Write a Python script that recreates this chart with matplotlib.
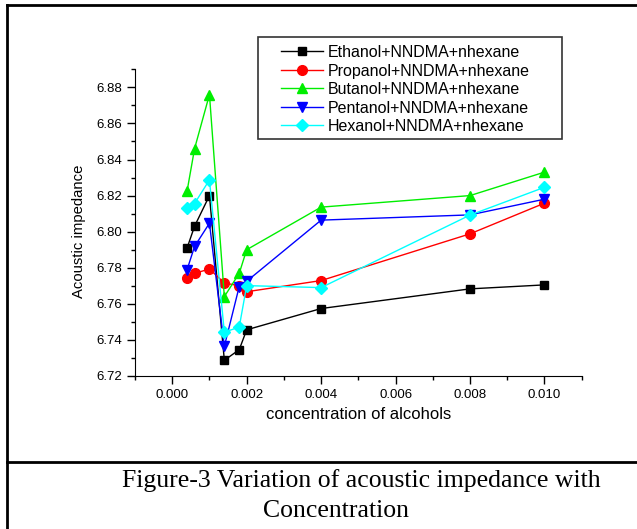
import numpy as np
import matplotlib
matplotlib.use('Agg')
import matplotlib.pyplot as plt
from matplotlib.ticker import MultipleLocator
from matplotlib.lines import Line2D
from matplotlib.patches import Rectangle

# concentration of alcohols
conc = [0.0004, 0.0006, 0.001, 0.0014, 0.0018, 0.002, 0.004, 0.008, 0.010]

ethanol = [6.791, 6.803, 6.820, 6.7287, 6.7346, 6.7456, 6.7574, 6.7683, 6.7705]
propanol = [6.7744, 6.7769, 6.7793, 6.7716, 6.7700, 6.7667, 6.7729, 6.7988, 6.8158]
butanol = [6.8226, 6.846, 6.876, 6.764, 6.7769, 6.790, 6.8136, 6.8200, 6.833]
pentanol = [6.779, 6.7918, 6.8047, 6.7364, 6.7696, 6.7725, 6.8064, 6.8093, 6.818]
hexanol = [6.813, 6.8156, 6.8287, 6.7443, 6.7471, 6.7701, 6.769, 6.8092, 6.8246]

labels = ['Ethanol+NNDMA+nhexane', 'Propanol+NNDMA+nhexane', 'Butanol+NNDMA+nhexane',
          'Pentanol+NNDMA+nhexane', 'Hexanol+NNDMA+nhexane']
series = [ethanol, propanol, butanol, pentanol, hexanol]
colors = ['#000000', '#FF0000', '#00EE00', '#0000FF', '#00FFFF']
markers = ['s', 'o', '^', 'v', 'D']
msizes = [6, 7, 7.5, 7.5, 6]

plt.rcParams['font.family'] = ['Liberation Sans', 'DejaVu Sans']

W, H = 637, 529
fig = plt.figure(figsize=(W / 100, H / 100), dpi=100)
ax = fig.add_axes([135 / W, 153 / H, 446.7 / W, 306.7 / H])

for vals, c, m, ms, lab in zip(series, colors, markers, msizes, labels):
    ax.plot(conc, vals, color=c, marker=m, markersize=ms, lw=1.0, label=lab,
            markeredgecolor=c)

ax.set_xlim(-0.001, 0.011)
ax.set_ylim(6.72, 6.89)
ax.xaxis.set_minor_locator(MultipleLocator(0.001))
ax.yaxis.set_minor_locator(MultipleLocator(0.01))
ax.set_xticks([0.000, 0.002, 0.004, 0.006, 0.008, 0.010])
ax.set_yticks(np.arange(6.72, 6.881, 0.02))
ax.xaxis.set_major_formatter(plt.FuncFormatter(lambda v, p: '%.3f' % v))
ax.yaxis.set_major_formatter(plt.FuncFormatter(lambda v, p: '%.2f' % v))
for s in ['top', 'right']:
    ax.spines[s].set_visible(False)
ax.tick_params(which='major', direction='out', length=6, width=1, labelsize=9.5, pad=3)
ax.tick_params(which='minor', direction='out', length=3, width=1)
ax.set_xlabel('concentration of alcohols', fontsize=12, labelpad=5)
ax.set_ylabel('Acoustic impedance', fontsize=10.7)
ax.yaxis.set_label_coords(-0.109, 0.473)

leg = ax.legend(loc='upper left', bbox_to_anchor=(281 / W, 1 - 45 / H),
                bbox_transform=fig.transFigure, borderaxespad=0, borderpad=0,
                fontsize=11.5, frameon=False, handlelength=2.64,
                labelspacing=0.22, handletextpad=0.31)
fig.add_artist(Rectangle((258 / W, 1 - 139 / H), 304 / W, 102 / H,
                         transform=fig.transFigure, fill=False,
                         edgecolor='#333333', lw=1.2))

# page frame and caption
fig.add_artist(Line2D([7 / W, 7 / W], [0, 1 - 5 / H], color='black', lw=2))
fig.add_artist(Line2D([7 / W, 1], [1 - 5 / H, 1 - 5 / H], color='black', lw=2))
fig.add_artist(Line2D([7 / W, 1], [1 - 462 / H, 1 - 462 / H], color='black', lw=2))
fig.text(601 / W, 1 - 481 / H, 'Figure-3 Variation of acoustic impedance with',
         ha='right', va='center', fontsize=18.5, family='Liberation Serif')
fig.text(336 / W, 1 - 511 / H, 'Concentration',
         ha='center', va='center', fontsize=18.5, family='Liberation Serif')

fig.savefig('out.png', dpi=100)
